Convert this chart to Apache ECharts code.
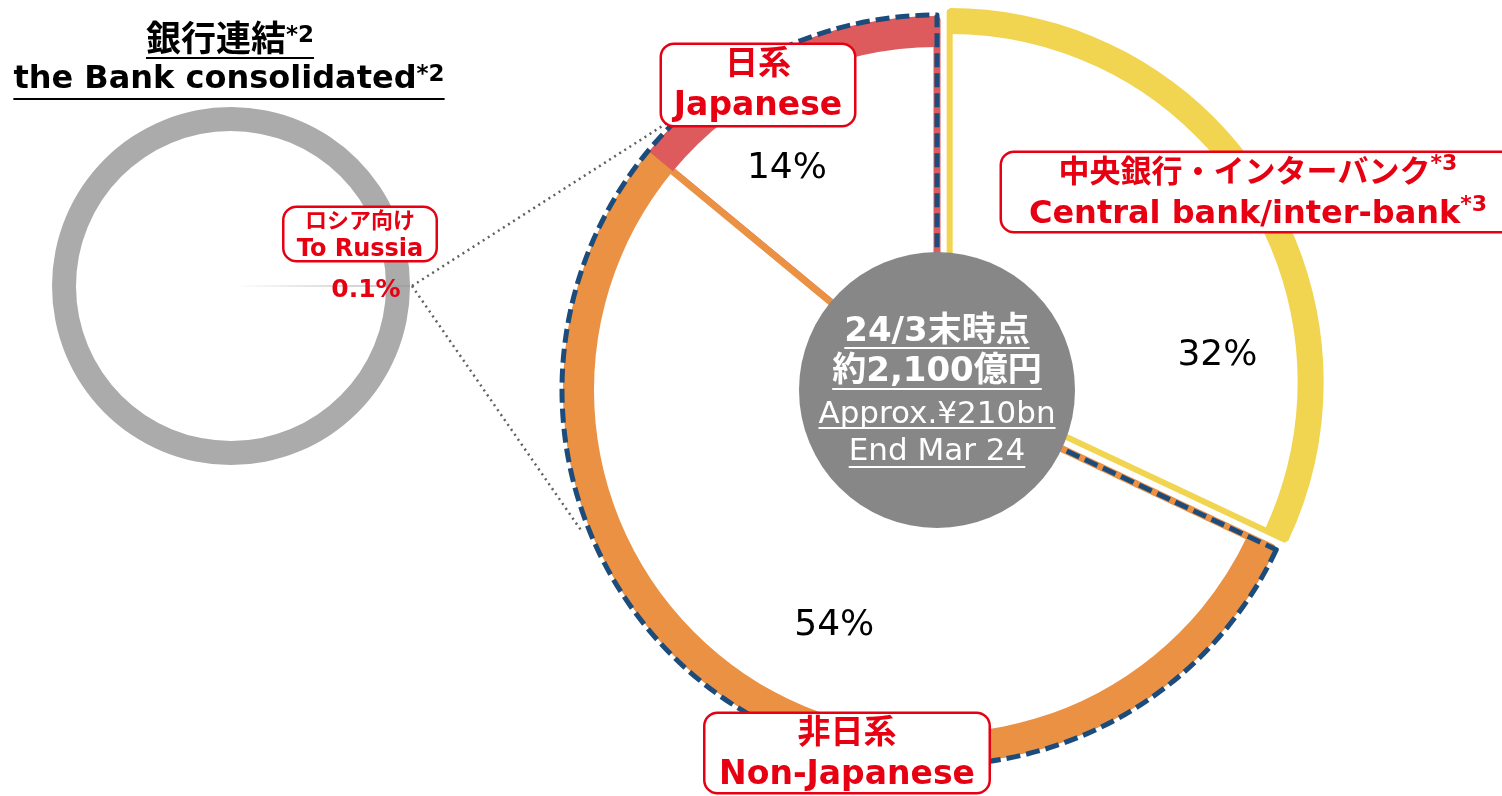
<!DOCTYPE html>
<html>
<head>
<meta charset="utf-8">
<script src="https://cdn.jsdelivr.net/npm/echarts@6/dist/echarts.min.js"></script>
<style>
  html, body { margin: 0; padding: 0; background: #fff; }
  #chart { width: 1502px; height: 796px; }
</style>
</head>
<body>
<div id="chart"></div>
<script>
// ---- data ----
const categoriesJa = ['日系', '中央銀行・インターバンク', '非日系'];
const categoriesEn = ['Japanese', 'Central bank/inter-bank', 'Non-Japanese'];
const shares = [14, 32, 54];          // % of exposure
const russiaShare = 0.1;              // % of the Bank consolidated
const russiaLabel = ['ロシア向け', 'To Russia'];
const titleLines = ['銀行連結', 'the Bank consolidated'];
const centerLines = ['24/3末時点', '約2,100億円', 'Approx.¥210bn', 'End Mar 24'];

// ---- style ----
const FONT = "'DejaVu Sans', 'Noto Sans CJK JP', sans-serif";
const RED_TEXT = '#e60012';
const sliceColors = ['#dd5b5d', '#f1d44f', '#ea9144'];
const edgeWidths = [7, 6, 7];
const NAVY = '#1c4c7c';

const BIG_C = [937, 390];
const BIG_R = 374;
const RING_W = 31;        // Japanese / Non-Japanese ring
const RING_W_CB = 26;     // central bank ring
const CORE_R = 138;
const SMALL_C = [231, 286];
const SMALL_R = [155, 179];

// shift of the % labels from the slice middle
const pctShift = [[-70, -51], [109, 74], [-2, 77]];

const total = shares.reduce((a, b) => a + b, 0);
const startAngle = 90 + shares[0] / total * 360;

const chart = echarts.init(document.getElementById('chart'));

const ctx = document.createElement('canvas').getContext('2d');
function textW(text, size, weight) {
  ctx.font = `${weight} ${size}px ${FONT}`;
  return ctx.measureText(text).width;
}

// text line with underline (optional superscript)
function underlined(x, y, text, size, weight, color, ulGap, sup, supSize) {
  let w = textW(text, size, weight);
  let str = '{m|' + text + '}';
  if (sup) {
    w += textW(sup, supSize, weight);
    str += '{s|' + sup + '}';
  }
  return [
    {
      type: 'text', x: x, y: y, z: 100,
      style: {
        text: str, align: 'center', verticalAlign: 'middle',
        rich: {
          m: { fontSize: size, fontWeight: weight, fontFamily: FONT, fill: color },
          s: { fontSize: supSize, fontWeight: weight, fontFamily: FONT, fill: color, verticalAlign: 'top' }
        }
      }
    },
    {
      type: 'rect', z: 100,
      shape: { x: x - w / 2, y: y + ulGap, width: w, height: 2 },
      style: { fill: color }
    }
  ];
}

// red rounded label box; lines: [[text, size, sup]]
function box(x, y, lines, lineHeight, width, height) {
  const rich = {};
  const rows = lines.map((l, i) => {
    rich['l' + i] = { fontSize: l[1], fontWeight: 'bold', fontFamily: FONT, fill: RED_TEXT, lineHeight: lineHeight };
    rich['s' + i] = { fontSize: Math.round(l[1] * 0.7), fontWeight: 'bold', fontFamily: FONT, fill: RED_TEXT, verticalAlign: 'top' };
    return `{l${i}|${l[0]}}` + (l[2] ? `{s${i}|${l[2]}}` : '');
  });
  return {
    type: 'text', x: x, y: y, z: 100,
    style: {
      text: rows.join('\n'),
      align: 'center', verticalAlign: 'middle',
      width: width, height: height,
      backgroundColor: '#fff', borderColor: RED_TEXT, borderWidth: 2.5, borderRadius: 12,
      rich: rich
    }
  };
}

function polar(c, r, deg) {
  const a = deg * Math.PI / 180;
  return [c[0] + r * Math.cos(a), c[1] - r * Math.sin(a)];
}

const bigData = (styleFn) => shares.map((v, i) => ({
  name: categoriesEn[i], value: v, selected: i === 1, itemStyle: styleFn(i)
}));
const clear = 'rgba(0,0,0,0)';

const connStart = [SMALL_C[0] + SMALL_R[1] + 2, SMALL_C[1]];
const connEnds = [polar(BIG_C, BIG_R + 6, 135.5), polar(BIG_C, BIG_R + 8, 201.9)];

const graphics = [];
connEnds.forEach(p => graphics.push({
  type: 'line', z: 1,
  shape: { x1: connStart[0], y1: connStart[1], x2: p[0], y2: p[1] },
  style: { stroke: '#606060', lineWidth: 2.5, lineDash: [2, 4] }
}));
graphics.push(...underlined(230, 42, titleLines[0], 35, 'bold', '#000', 15, '*2', 23));
graphics.push(...underlined(229, 80, titleLines[1], 32, 'bold', '#000', 18, '*2', 23));
graphics.push(...underlined(BIG_C[0], 332, centerLines[0], 34, 'bold', '#fff', 15));
graphics.push(...underlined(BIG_C[0], 372, centerLines[1], 34, 'bold', '#fff', 16));
graphics.push(...underlined(BIG_C[0], 415, centerLines[2], 31, 'normal', '#fff', 12));
graphics.push(...underlined(BIG_C[0], 452, centerLines[3], 31, 'normal', '#fff', 14));
graphics.push(box(758, 85, [[categoriesJa[0], 33], [categoriesEn[0], 33]], 41, 192, 80));
graphics.push(box(1258, 192, [[categoriesJa[1], 31, '*3'], [categoriesEn[1], 32, '*3']], 41, 512, 78));
graphics.push(box(847, 753, [[categoriesJa[2], 33], [categoriesEn[2], 33]], 41, 283, 78));
graphics.push(box(360, 234, [[russiaLabel[0], 22], [russiaLabel[1], 24]], 28, 151, 52));
graphics.push({
  type: 'text', x: 366, y: 290, z: 100,
  style: {
    text: russiaShare + '%', align: 'center', verticalAlign: 'middle',
    fontSize: 25, fontWeight: 'bold', fontFamily: FONT, fill: RED_TEXT
  }
});

const ringSeries = (width, only) => ({
  type: 'pie', center: BIG_C, radius: [BIG_R - width, BIG_R], startAngle: startAngle,
  selectedMode: 'single', selectedOffset: 15, silent: true, z: 3,
  label: { show: false },
  data: bigData(i => ({ color: only(i) ? sliceColors[i] : clear, borderWidth: 0 }))
});

const option = {
  backgroundColor: '#fff',
  animation: false,
  series: [
    {
      // white slices with coloured edges
      type: 'pie', center: BIG_C, radius: [0, BIG_R - 4], startAngle: startAngle,
      selectedMode: 'single', selectedOffset: 15, silent: true, z: 2,
      label: {
        show: true, position: 'inside', formatter: p => p.value + '%',
        fontSize: 36, fontFamily: FONT, color: '#000'
      },
      labelLine: { show: false },
      labelLayout: p => ({ dx: pctShift[p.dataIndex][0], dy: pctShift[p.dataIndex][1] }),
      data: bigData(i => ({ color: '#fff', borderColor: sliceColors[i], borderWidth: edgeWidths[i] }))
    },
    // thick outer rings
    ringSeries(RING_W, i => i !== 1),
    ringSeries(RING_W_CB, i => i === 1),
    {
      // dashed outline round Japanese + Non-Japanese
      type: 'pie', center: BIG_C, radius: [0, BIG_R + 1], startAngle: 90,
      silent: true, z: 4, label: { show: false },
      data: [
        { value: shares[1], itemStyle: { color: clear, borderWidth: 0 } },
        { value: shares[0] + shares[2], itemStyle: {
          color: clear, borderColor: NAVY, borderWidth: 5, borderType: [14, 6]
        } }
      ]
    },
    {
      // grey core
      type: 'pie', center: BIG_C, radius: [0, CORE_R], silent: true, z: 5,
      label: { show: false },
      data: [{ value: total, itemStyle: { color: '#878787' } }]
    },
    {
      // the Bank consolidated: thin wedge for Russia
      type: 'pie', center: SMALL_C, radius: [0, SMALL_R[1]],
      startAngle: russiaShare / 100 * 360 / 2, silent: true, z: 2,
      label: { show: false },
      data: [
        { value: russiaShare, itemStyle: { color: '#8a8a8a' } },
        { value: 100 - russiaShare, itemStyle: { color: clear } }
      ]
    },
    {
      type: 'pie', center: SMALL_C, radius: SMALL_R,
      startAngle: russiaShare / 100 * 360 / 2, silent: true, z: 3,
      label: { show: false },
      data: [
        { value: russiaShare, itemStyle: { color: '#6f6f6f' } },
        { value: 100 - russiaShare, itemStyle: { color: '#ababab' } }
      ]
    }
  ],
  graphic: { elements: graphics }
};

chart.setOption(option);
</script>
</body>
</html>
